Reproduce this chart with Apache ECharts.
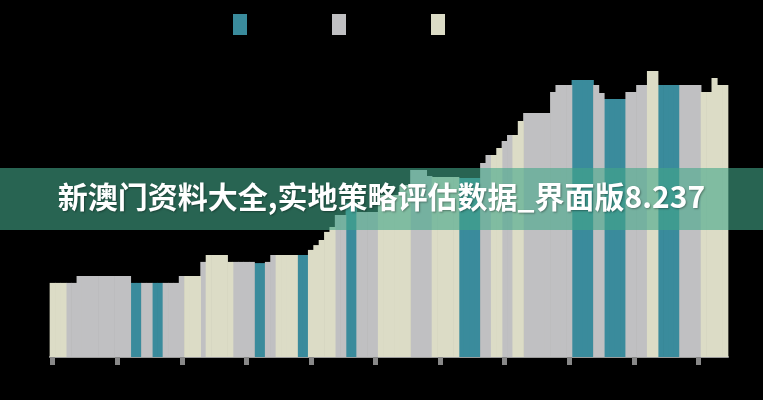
<!DOCTYPE html>
<html>
<head>
<meta charset="utf-8">
<script src="https://cdn.jsdelivr.net/npm/echarts@6/dist/echarts.min.js"></script>
<style>
html,body{margin:0;padding:0;background:#000;}
#c{width:763px;height:400px;}
</style>
</head>
<body>
<div id="c"></div>
<script>
// Series names (legend text is not legible in the reference)
const seriesNames = ['系列一', '系列二', '系列三'];
const seriesColors = ['#3a8b9c', '#c0c0c2', '#dcdcc6'];

// Bar heights, one per category (left to right)
const heights = [
  24.7, 24.7, 24.7, 24.7, 24.7, 27, 27, 27, 27, 27,
  27, 27, 27, 27, 27, 24.7, 24.7, 24.7, 24.7, 24.7,
  24.7, 24.7, 24.7, 24.7, 27, 27, 27, 27, 31.7, 34,
  34, 34, 34, 31.7, 31.7, 31.7, 31.7, 31.7, 31.3, 31.3,
  31.7, 34, 34, 34, 34, 34, 34, 34, 35.7, 37.3,
  39, 41.7, 43.3, 47.3, 47.3, 51.3, 51.3, 48.3, 48.3, 48.3,
  48.3, 54, 54, 54, 54, 57.3, 57.3, 62.3, 62.3, 62.3,
  60.3, 60, 60, 60, 60, 60, 59.7, 59.7, 59.7, 59.7,
  64.7, 67.3, 67.3, 69.7, 72, 74, 74, 78.7, 81.3, 81.3,
  81.3, 81.3, 81.3, 88.3, 90.7, 90.7, 90.7, 92.3, 92.3, 92.3,
  92.3, 90.7, 88, 86, 86, 86, 86, 88.3, 88.3, 90.7,
  90.7, 95.3, 95.3, 90.7, 90.7, 90.7, 90.7, 90.7, 90.7, 90.7,
  90.7, 88.3, 88.3, 93, 90.7, 90.7
];

// Which series each category's bar belongs to: T = 系列一, G = 系列二, B = 系列三
const groups =
  'BBBGGGGGGG' + 'GGGGGTTGGT' + 'TGGGGBBBGB' + 'BBBBGGGGTT' + 'GGBBBBTTBB' +
  'BBBGGTTGGG' + 'GBBBBBBGGG' + 'GBBBBBTTTT' + 'GGBBGGBBGG' + 'GGGGGGGTTT' +
  'TGGTTTTGGG' + 'GBBTTTTGGG' + 'GBBBBB';

const categories = heights.map((_, i) => String(i + 1));

const title = '新澳门资料大全,实地策略评估数据_界面版8.237';

const codes = ['T', 'G', 'B'];
const series = codes.map((code, s) => {
  const data = [];
  heights.forEach((v, i) => { if (groups[i] === code) data.push([i, v]); });
  return {
    name: seriesNames[s],
    type: 'custom',
    data: data,
    encode: { x: 0, y: 1 },
    itemStyle: { color: seriesColors[s] },
    renderItem: function (params, api) {
      const top = api.coord([api.value(0), api.value(1)]);
      const base = api.coord([api.value(0), 0]);
      const w = api.size([1, 0])[0];
      return {
        type: 'rect',
        shape: { x: top[0] - w / 2 - 0.35, y: top[1], width: w + 0.7, height: base[1] - top[1] },
        style: { fill: seriesColors[s] }
      };
    },
    emphasis: { disabled: true }
  };
});

const chart = echarts.init(document.getElementById('c'), null, { renderer: 'canvas' });
chart.setOption({
  backgroundColor: '#000',
  animation: false,
  color: seriesColors,
  legend: {
    top: 9,
    left: 228,
    itemWidth: 14,
    itemHeight: 21,
    itemGap: 44,
    icon: 'rect',
    textStyle: { color: '#000', fontSize: 12 },
    data: seriesNames
  },
  grid: { left: 50, right: 35, top: 57, bottom: 43 },
  xAxis: {
    type: 'category',
    data: categories,
    boundaryGap: true,
    axisLine: { lineStyle: { color: '#9a9a9a', width: 2 } },
    axisTick: { show: true, alignWithLabel: true, interval: 11, length: 8, lineStyle: { color: '#888888', width: 5 } },
    axisLabel: { show: true, interval: 11, color: '#000', fontSize: 10 },
    splitLine: { show: false }
  },
  yAxis: {
    type: 'value',
    min: 0,
    max: 100,
    show: false,
    splitLine: { show: false }
  },
  series: series,
  graphic: [
    {
      type: 'rect',
      left: 0,
      top: 168,
      shape: { width: 763, height: 62 },
      style: { fill: 'rgba(67,167,137,0.6)' },
      z: 100
    },
    {
      type: 'text',
      left: 'center',
      top: 182,
      style: {
        text: title,
        fill: '#ffffff',
        font: 'bold 30px "Noto Sans CJK SC", sans-serif',
        textShadowColor: 'rgba(0,0,0,0.35)',
        textShadowBlur: 2,
        textShadowOffsetX: 1,
        textShadowOffsetY: 1
      },
      z: 101
    }
  ]
});
</script>
</body>
</html>
